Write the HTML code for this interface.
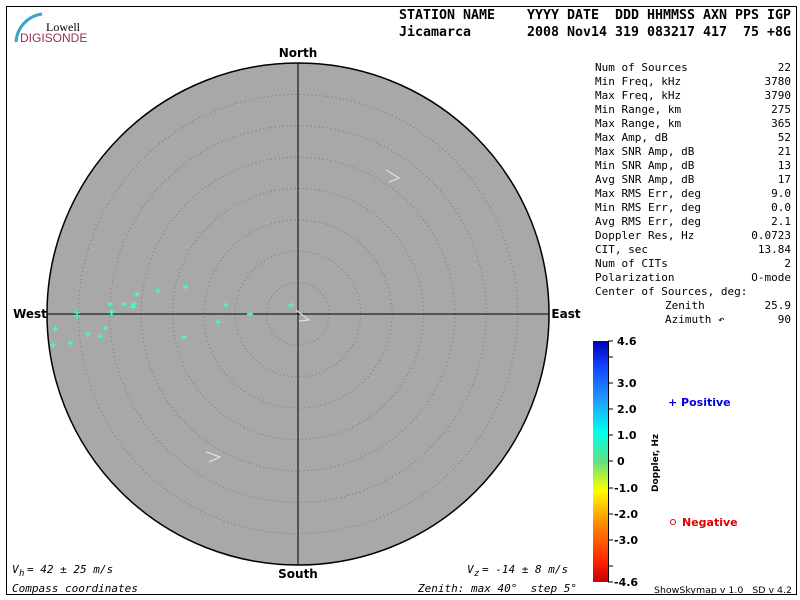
<!DOCTYPE html>
<html><head><meta charset="utf-8"><style>
body{margin:0;background:#fff}
svg{display:block}
.m{font-family:"DejaVu Sans Mono","Liberation Mono",monospace}
</style></head><body>
<svg width="800" height="600" xmlns="http://www.w3.org/2000/svg">
<defs>
<linearGradient id="cb" x1="0" y1="1" x2="0" y2="0">
<stop offset="0" stop-color="#c00000"/><stop offset="0.08" stop-color="#ff2000"/>
<stop offset="0.25" stop-color="#ff9000"/><stop offset="0.38" stop-color="#ffff00"/>
<stop offset="0.5" stop-color="#60e080"/><stop offset="0.62" stop-color="#00ffee"/>
<stop offset="0.75" stop-color="#20a0ff"/><stop offset="0.9" stop-color="#1040ff"/>
<stop offset="1" stop-color="#0000b0"/></linearGradient>
</defs>
<rect x="6.5" y="6.5" width="790" height="588" fill="none" stroke="#000"/>
<path d="M16 42 A30 30 0 0 1 42 14" fill="none" stroke="#3aa6cf" stroke-width="3"/>
<text x="80" y="31" font-family="Liberation Serif,serif" font-size="12" text-anchor="end">Lowell</text>
<text x="20" y="42" font-family="Liberation Sans,sans-serif" font-size="12" fill="#9c2a5c">DIGISONDE</text>
<g class="m" font-weight="bold" font-size="13">
<text x="399" y="19" xml:space="preserve" textLength="392" lengthAdjust="spacingAndGlyphs">STATION NAME    YYYY DATE  DDD HHMMSS AXN PPS IGP</text>
<text x="399" y="36" xml:space="preserve" textLength="392" lengthAdjust="spacingAndGlyphs">Jicamarca       2008 Nov14 319 083217 417  75 +8G</text>
</g>
<circle cx="298" cy="314" r="251" fill="#a8a8a8" stroke="#000" stroke-width="1.5"/>
<g fill="none" stroke="#777" stroke-dasharray="1,3">
<circle cx="298" cy="314" r="31.4"/><circle cx="298" cy="314" r="62.8"/><circle cx="298" cy="314" r="94.1"/><circle cx="298" cy="314" r="125.5"/><circle cx="298" cy="314" r="156.9"/><circle cx="298" cy="314" r="188.3"/><circle cx="298" cy="314" r="219.6"/>
</g>
<line x1="298" y1="63" x2="298" y2="565" stroke="#000"/>
<line x1="47" y1="314" x2="549" y2="314" stroke="#000"/>
<g font-family="DejaVu Sans,sans-serif" font-weight="bold" font-size="12" text-anchor="middle">
<text x="298" y="57">North</text><text x="298" y="578">South</text>
<text x="30" y="318">West</text><text x="566" y="318">East</text>
</g>
<g stroke="#ddd" fill="none" stroke-width="1.3">
<path d="M386 170 L399 178 L389 182"/><path d="M206 452 L220 457 L209 462"/><path d="M296 310 L309 320 L299 321"/>
</g>
<g stroke="#40ffcc" stroke-width="1.2">
<path d="M50 345h6m-3-3v6M67 343h6m-3-3v6M52 329h6m-3-3v6M74 313h6m-3-3v6M74 316h6m-3-3v6M85 334h6m-3-3v6M97 336h6m-3-3v6M102 328h6m-3-3v6M107 304h6m-3-3v6M108 312h6m-3-3v6M109 312h6m-3-3v6M121 304h6m-3-3v6M131 304h6m-3-3v6M130 307h6m-3-3v6M134 294h6m-3-3v6M155 291h6m-3-3v6M183 287h6m-3-3v6M181 337h6m-3-3v6M215 322h6m-3-3v6M223 305h6m-3-3v6M247 314h6m-3-3v6M288 305h6m-3-3v6"/>
</g>
<g class="m" font-size="11">
<text x="595" y="71">Num of Sources</text><text x="791" y="71" text-anchor="end">22</text>
<text x="595" y="85">Min Freq, kHz</text><text x="791" y="85" text-anchor="end">3780</text>
<text x="595" y="99">Max Freq, kHz</text><text x="791" y="99" text-anchor="end">3790</text>
<text x="595" y="113">Min Range, km</text><text x="791" y="113" text-anchor="end">275</text>
<text x="595" y="127">Max Range, km</text><text x="791" y="127" text-anchor="end">365</text>
<text x="595" y="141">Max Amp, dB</text><text x="791" y="141" text-anchor="end">52</text>
<text x="595" y="155">Max SNR Amp, dB</text><text x="791" y="155" text-anchor="end">21</text>
<text x="595" y="169">Min SNR Amp, dB</text><text x="791" y="169" text-anchor="end">13</text>
<text x="595" y="183">Avg SNR Amp, dB</text><text x="791" y="183" text-anchor="end">17</text>
<text x="595" y="197">Max RMS Err, deg</text><text x="791" y="197" text-anchor="end">9.0</text>
<text x="595" y="211">Min RMS Err, deg</text><text x="791" y="211" text-anchor="end">0.0</text>
<text x="595" y="225">Avg RMS Err, deg</text><text x="791" y="225" text-anchor="end">2.1</text>
<text x="595" y="239">Doppler Res, Hz</text><text x="791" y="239" text-anchor="end">0.0723</text>
<text x="595" y="253">CIT, sec</text><text x="791" y="253" text-anchor="end">13.84</text>
<text x="595" y="267">Num of CITs</text><text x="791" y="267" text-anchor="end">2</text>
<text x="595" y="281">Polarization</text><text x="791" y="281" text-anchor="end">O-mode</text>
<text x="595" y="295">Center of Sources, deg:</text>
<text x="665" y="309">Zenith</text><text x="791" y="309" text-anchor="end">25.9</text>
<text x="665" y="323">Azimuth ↶</text><text x="791" y="323" text-anchor="end">90</text>
</g>
<rect x="593" y="341" width="15" height="241" fill="url(#cb)"/>
<line x1="608.5" y1="341" x2="608.5" y2="582" stroke="#000"/>
<g stroke="#000"><path d="M608 341h5M608 357h5M608 383h5M608 409h5M608 435h5M608 461h5M608 488h5M608 514h5M608 540h5M608 566h5M608 582h5"/></g>
<g font-family="DejaVu Sans,sans-serif" font-weight="bold" font-size="11">
<text x="617" y="345">4.6</text><text x="617" y="387">3.0</text><text x="617" y="413">2.0</text><text x="617" y="439">1.0</text><text x="617" y="465">0</text><text x="614" y="492">-1.0</text><text x="614" y="518">-2.0</text><text x="614" y="544">-3.0</text><text x="614" y="586">-4.6</text>
<text transform="translate(658,492) rotate(-90)" font-size="9">Doppler, Hz</text>
<text x="668" y="406" fill="#0000e0">+ Positive</text>
<text x="682" y="526" fill="#e00000">Negative</text>
</g>
<circle cx="673" cy="522" r="2.5" fill="none" stroke="#e00000"/>
<g class="m" font-size="11" font-style="italic">
<text x="12" y="573">V</text><text x="19" y="576" font-size="9">h</text><text x="27" y="573"> = 42 ± 25 m/s</text>
<text x="467" y="573">V</text><text x="474" y="576" font-size="9">z</text><text x="482" y="573"> = -14 ± 8 m/s</text>
<text x="12" y="592">Compass coordinates</text>
<text x="418" y="592" xml:space="preserve">Zenith: max 40°  step 5°</text>
</g>
<text x="654" y="593" font-family="DejaVu Sans,sans-serif" font-size="9" xml:space="preserve" textLength="138" lengthAdjust="spacingAndGlyphs">ShowSkymap v 1.0   SD v 4.2</text>
</svg>
</body></html>
